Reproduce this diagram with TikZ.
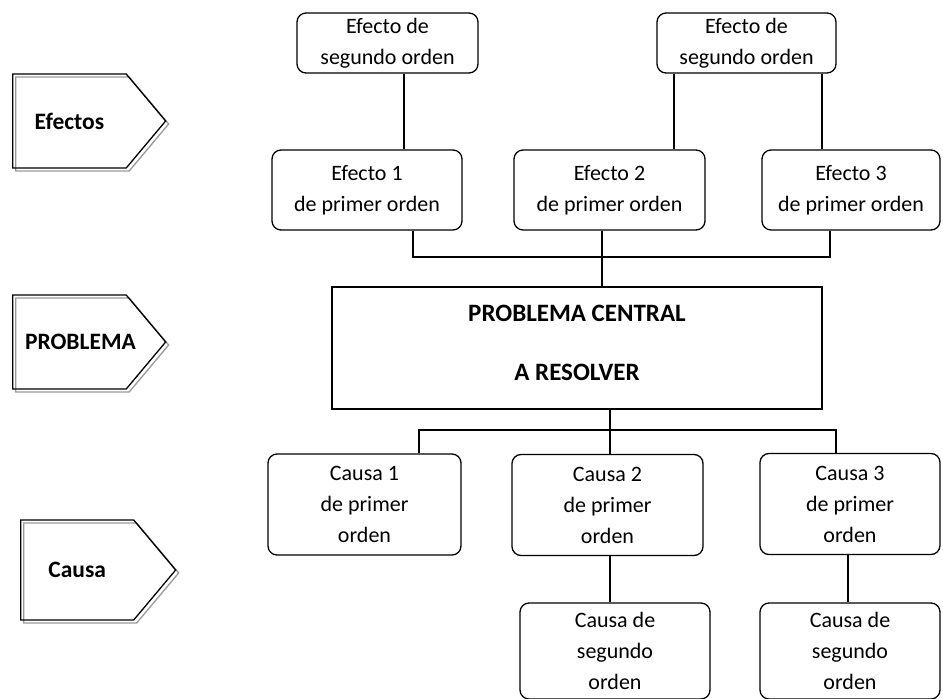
\documentclass[tikz,border=0pt]{standalone}
\usepackage{fontspec}
\setmainfont{Carlito}
\usetikzlibrary{shapes.symbols}

\tikzset{
  box/.style={draw, rounded corners=9pt, line width=1.3pt, align=center, inner sep=2pt,
    font=\fontsize{22}{31}\selectfont},
  tag/.style={signal, signal to=east, signal pointer angle=100, draw, line width=1.3pt,
    font=\bfseries\fontsize{23.5}{26}\selectfont, minimum width=153pt, minimum height=94pt},
  tagshadow/.style={tag, draw=black!40},
  conn/.style={line width=1.3pt},
}

\begin{document}
\begin{tikzpicture}[x=1pt,y=-1pt]
\useasboundingbox (0,0) rectangle (943,699);

% etiquetas de la izquierda
\node[tagshadow, anchor=west] at (15,124) {};
\node[tag, anchor=west] (tagEf) at (12,121) {Efectos};
\node[tagshadow, anchor=west] at (15,345) {};
\node[tag, anchor=west] (tagPr) at (12,342) {\makebox[0pt]{\hspace*{22pt}PROBLEMA}};
\node[tagshadow, anchor=west, minimum width=155pt, minimum height=100pt] at (23,573) {};
\node[tag, anchor=west, minimum width=155pt, minimum height=100pt] (tagCa) at (20,570) {Causa};

% efectos
\node[box, minimum width=181pt, minimum height=60pt] (efSegA) at (387.5,43) {Efecto de\\segundo orden};
\node[box, minimum width=179pt, minimum height=60pt] (efSegB) at (746.5,43) {Efecto de\\segundo orden};
\node[box, minimum width=190pt, minimum height=80pt] (ef1) at (367,190) {Efecto 1\\de primer orden};
\node[box, minimum width=191pt, minimum height=80pt] (ef2) at (609.5,190) {Efecto 2\\de primer orden};
\node[box, minimum width=178pt, minimum height=80pt] (ef3) at (851,190) {Efecto 3\\de primer orden};

% problema
\node[draw, line width=1.3pt, minimum width=490pt, minimum height=122pt, align=center, text depth=11pt,
  font=\bfseries\fontsize{25}{30}\selectfont] (prob) at (577,348) {PROBLEMA CENTRAL\\[29pt]A RESOLVER};

% causas
\node[box, minimum width=193pt, minimum height=101pt] (ca1) at (364.5,504.5) {Causa 1\\de primer\\orden};
\node[box, minimum width=191pt, minimum height=101pt] (ca2) at (607.5,505) {Causa 2\\de primer\\orden};
\node[box, minimum width=180pt, minimum height=101pt] (ca3) at (850,504) {Causa 3\\de primer\\orden};
\node[box, minimum width=190pt, minimum height=96pt] (caSegA) at (615,651) {Causa de\\segundo\\orden};
\node[box, minimum width=180pt, minimum height=96pt] (caSegB) at (850,651) {Causa de\\segundo\\orden};

% conectores de efectos
\coordinate (busE) at (602,257);
\draw[conn] ([xshift=16.5pt]efSegA.south) -- ([xshift=16.5pt]efSegA.south |- ef1.north);
\draw[conn] ([xshift=-72.5pt]efSegB.south) -- ([xshift=-72.5pt]efSegB.south |- ef2.north);
\draw[conn] ([xshift=75.5pt]efSegB.south) -- ([xshift=75.5pt]efSegB.south |- ef3.north);
\draw[conn] ([xshift=46pt]ef1.south) |- ([xshift=-21pt]ef3.south |- busE) -- ([xshift=-21pt]ef3.south);
\draw[conn] (ef2.south -| busE) -- (prob.north -| busE);

% conectores de causas
\coordinate (busC) at (610,430);
\draw[conn] (prob.south -| busC) -- (ca2.north -| busC);
\draw[conn] ([xshift=54.5pt]ca1.north) |- ([xshift=-14pt]ca3.north |- busC) -- ([xshift=-14pt]ca3.north);
\draw[conn] (ca2.south -| busC) -- (caSegA.north -| busC);
\draw[conn] ([xshift=-2pt]ca3.south) -- ([xshift=-2pt]ca3.south |- caSegB.north);

\end{tikzpicture}
\end{document}
